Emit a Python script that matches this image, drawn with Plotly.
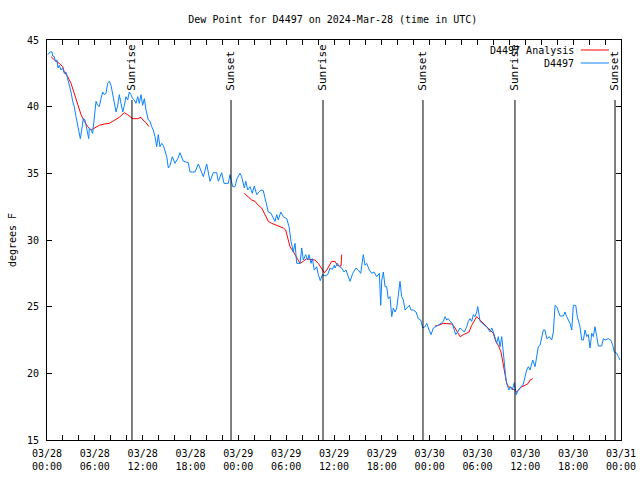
import pandas as pd
import plotly.graph_objects as go

# ---- data (hours since 2024-03-28 00:00 UTC, degrees F) ----
obs_hours = [0.09, 0.38, 0.63, 0.72, 0.92, 1.04, 1.25, 1.38, 1.54, 1.76, 1.97, 2.17, 2.38, 2.60, 2.80,
             3.01, 3.22, 3.42, 3.64, 3.85, 4.05, 4.18, 4.35, 4.55, 4.77, 4.89, 5.11, 5.23, 5.31, 5.52,
             5.73, 5.93, 6.15, 6.36, 6.56, 6.77, 6.99, 7.19, 7.40, 7.61, 7.82, 8.03, 8.24, 8.44, 8.66,
             8.87, 9.07, 9.28, 9.50, 9.70, 9.91, 10.12, 10.32, 10.54, 10.75, 10.95, 11.16, 11.38, 11.58,
             11.79, 12.00, 12.21, 12.42, 12.71, 12.92, 13.13, 13.33, 13.55, 13.76, 13.96, 14.17, 14.39,
             14.59, 15.02, 15.22, 15.43, 15.72, 16.06, 16.40, 16.68, 17.10, 17.72, 17.94, 18.57, 18.98,
             19.61, 20.03, 20.45, 20.86, 21.29, 21.49, 21.91, 22.20, 22.74, 22.96, 23.29, 23.58, 23.83,
             24.21, 24.42, 24.75, 24.93, 25.18, 25.47, 25.75, 26.00, 26.31, 26.59, 26.84, 27.13, 27.43,
             27.76, 28.10, 28.39, 28.60, 28.81, 29.01, 29.32, 29.64, 30.07, 30.36, 30.61, 30.90, 31.11,
             31.32, 31.74, 31.95, 32.15, 32.45, 32.70, 32.87, 33.12, 33.28, 33.53, 33.83, 34.03, 34.28,
             34.53, 34.87, 35.21, 35.50, 35.79, 36.04, 36.13, 36.42, 36.67, 36.97, 37.26, 37.51, 37.80,
             38.01, 38.35, 38.76, 39.05, 39.35, 39.68, 39.89, 40.10, 40.43, 40.73, 41.02, 41.36, 41.69,
             41.86, 41.99, 42.19, 42.40, 42.61, 42.81, 43.03, 43.24, 43.44, 43.65, 43.87, 44.07, 44.28,
             44.49, 44.70, 44.91, 45.20, 45.45, 45.66, 45.95, 46.29, 46.58, 46.88, 47.13, 47.42, 47.63,
             47.83, 48.04, 48.17, 48.46, 48.76, 49.09, 49.43, 49.71, 49.93, 50.14, 50.34, 50.55, 50.84,
             51.09, 51.27, 51.52, 51.81, 52.10, 52.35, 52.65, 52.85, 53.06, 53.27, 53.48, 53.69, 53.90,
             54.03, 54.19, 54.32, 54.61, 54.95, 55.28, 55.57, 55.79, 55.99, 56.20, 56.41, 56.61, 56.83,
             57.04, 57.24, 57.45, 57.58, 57.79, 57.95, 58.12, 58.37, 58.62, 58.87, 59.12, 59.33, 59.46,
             59.75, 60.17, 60.38, 60.59, 60.93, 61.22, 61.43, 61.63, 61.84, 62.26, 62.47, 62.69, 63.01,
             63.31, 63.51, 63.73, 63.94, 64.14, 64.35, 64.77, 64.98, 65.19, 65.61, 65.82, 66.02, 66.32,
             66.52, 66.86, 67.07, 67.28, 67.49, 67.70, 67.90, 68.12, 68.33, 68.53, 68.74, 68.96, 69.16,
             69.58, 69.79, 70.00, 70.41, 70.71, 70.96, 71.16, 71.47, 71.67, 71.88]
obs_values = [43.9, 44.1, 44.1, 43.8, 43.75, 43.4, 43.5, 42.9, 43.1, 42.75, 42.9, 42.5, 42.6, 42.1, 41.75,
              41.1, 40.4, 40.0, 39.25, 38.5, 37.75, 37.6, 38.25, 39.1, 39.0, 38.6, 37.75, 37.6, 38.4, 38.25,
              38.0, 39.25, 40.4, 40.1, 40.0, 40.6, 41.1, 40.9, 41.0, 41.75, 41.9, 41.6, 40.9, 40.25, 39.6,
              40.1, 40.9, 40.25, 39.6, 40.1, 40.75, 40.5, 41.1, 40.9, 40.6, 40.5, 40.25, 40.75, 40.25,
              40.9, 40.1, 40.6, 39.75, 39.0, 38.9, 38.5, 38.25, 37.75, 37.0, 37.9, 37.0, 37.25,
              37.1, 36.25, 35.4, 35.6, 36.25, 35.75, 36.1, 36.55, 35.9, 35.8, 35.1, 35.1, 35.7,
              34.75, 35.7, 34.4, 35.05, 35.05, 34.4, 35.05, 34.25, 34.25, 34.9, 34.0, 34.0, 34.6,
              35.0, 34.75, 33.9, 34.4, 33.75, 34.0, 33.5, 34.05, 33.4, 33.6, 33.75, 33.7, 32.9,
              32.1, 32.0, 31.6, 31.4, 31.9, 31.5, 32.1, 31.75, 31.6, 31.0, 29.9, 29.1, 29.75,
              28.25, 28.25, 29.4, 28.5, 28.9, 28.5, 28.9, 28.25, 28.6, 27.75, 28.0, 27.4, 26.95,
              27.4, 27.3, 27.4, 27.9, 27.8, 28.1, 27.9, 28.25, 28.0, 27.9, 27.6, 27.75, 27.25,
              26.9, 27.5, 27.9, 27.75, 27.5, 28.9, 28.1, 28.25, 27.75, 27.5, 27.6, 27.25, 27.5,
              25.1, 27.0, 27.6, 26.5, 26.5, 25.6, 25.75, 24.25, 24.9, 24.6, 24.9, 26.0, 26.9,
              25.75, 25.5, 24.75, 24.9, 25.1, 24.75, 24.75, 24.6, 24.1, 24.0, 23.4, 23.5, 23.75,
              23.4, 23.1, 22.9, 23.4, 23.5, 23.6, 23.75, 23.9, 24.25, 24.0, 24.1, 23.9, 23.75,
              23.25, 22.9, 23.1, 23.4, 23.25, 23.1, 23.5, 23.9, 24.1, 23.9, 24.4, 24.25, 24.6,
              25.0, 24.4, 23.9, 23.75, 23.6, 23.4, 23.1, 23.4, 23.1, 22.6, 22.25, 22.75, 22.0,
              22.75, 21.4, 20.25, 19.5, 19.0, 18.75, 19.0, 18.75, 19.3, 18.4, 18.75, 18.9, 19.0,
              19.2, 20.25, 20.5, 20.25, 21.0, 20.5, 21.4, 22.0, 22.1, 23.25, 23.25, 22.6, 22.75,
              22.5, 23.1, 25.1, 25.0, 24.6, 24.3, 24.3, 24.6, 24.25, 23.75, 23.25, 25.1, 25.1,
              24.25, 23.5, 22.5, 22.5, 23.25, 22.75, 22.9, 21.9, 23.0, 22.75, 23.5, 22.75, 22.05,
              22.05, 22.6, 22.5, 22.6, 22.5, 22.1, 21.6, 21.5, 21.25, 21.0]

ana_hours = [0.50, 1.13, 1.54, 1.97, 2.17, 2.60, 3.01, 3.42, 3.85, 4.27, 4.68, 5.11, 5.52, 5.93, 6.56,
             7.19, 7.82, 8.24, 8.66, 9.07, 9.70, 10.12, 10.75, 11.38, 11.79, 12.04, 12.42, 12.80,
             18.0,
             24.75, 25.25, 25.68, 26.09, 26.51, 26.93, 27.35, 27.76, 28.19, 28.81, 29.23, 29.64, 29.94,
             30.19, 30.48, 30.77, 31.02, 31.32, 31.74, 32.15, 32.57, 32.99, 33.62, 34.03, 34.46, 34.78,
             35.09, 35.41, 35.71, 36.13, 36.42, 36.67, 36.88, 36.97,
             42.0,
             48.67, 49.09, 49.71, 50.34, 50.84, 51.18, 51.52, 51.81, 52.23, 52.65, 52.94, 53.27, 53.60,
             53.90, 54.32, 54.73, 55.16, 55.57, 55.99, 56.28, 56.61, 56.95, 57.24, 57.45, 57.66, 57.87,
             58.29, 58.62, 58.92, 59.21, 59.55, 59.96, 60.38, 60.59, 60.93]
ana_values = [43.75, 43.4, 43.25, 43.0, 42.6, 42.25, 41.75, 41.0, 40.1, 39.4, 38.9, 38.5, 38.25, 38.4, 38.6,
              38.7, 38.75, 38.9, 39.05, 39.2, 39.55, 39.4, 39.1, 39.1, 39.2, 39.0, 38.8, 38.5,
              None,
              33.5, 33.25, 33.0, 32.9, 32.6, 32.4, 31.9, 31.4, 31.25, 31.1, 31.05, 30.9, 30.75,
              30.1, 29.5, 29.25, 29.0, 28.6, 28.25, 28.4, 28.6, 28.55, 28.5, 28.25, 27.9, 27.55,
              27.75, 28.05, 28.4, 28.4, 28.1, 28.05, 28.05, 28.9,
              None,
              23.55, 23.6, 23.75, 23.75, 23.7, 23.4, 23.0, 22.75, 22.9, 23.05, 23.1, 23.6, 24.0,
              24.25, 24.0, 23.75, 23.5, 23.3, 23.0, 22.4, 22.1, 21.6, 20.75, 19.9, 19.25, 19.0,
              18.9, 18.75, 18.6, 18.8, 19.0, 19.1, 19.25, 19.5, 19.6]

sun_hours = [10.66, 23.08, 34.62, 47.16, 58.70, 71.25]
sun_labels = ["Sunrise", "Sunset", "Sunrise", "Sunset", "Sunrise", "Sunset"]

base = pd.Timestamp("2024-03-28 00:00")
def to_time(hours):
    return [base + pd.Timedelta(hours=h) for h in hours]

FONT = "DejaVu Sans Mono"
BLUE = "#0a82ff"
RED = "#ff0000"

fig = go.Figure()
fig.add_trace(go.Scatter(x=to_time(ana_hours), y=ana_values, mode="lines",
                         line=dict(color=RED, width=1), connectgaps=False,
                         name="D4497 Analysis", showlegend=False))
fig.add_trace(go.Scatter(x=to_time(obs_hours), y=obs_values, mode="lines",
                         line=dict(color=BLUE, width=1), name="D4497", showlegend=False))

# sunrise / sunset markers
for h, lab in zip(sun_hours, sun_labels):
    t = base + pd.Timedelta(hours=h)
    fig.add_shape(type="line", x0=t, x1=t, y0=15, y1=40.5, xref="x", yref="y",
                  line=dict(color="black", width=1))
    fig.add_annotation(x=t, y=41.05, xref="x", yref="y", text=lab, textangle=-90,
                       showarrow=False, xanchor="center", yanchor="bottom",
                       font=dict(family=FONT, size=11, color="black"))

# manual legend (top right, gnuplot style)
legend_items = [("D4497 Analysis", RED, 0.975), ("D4497", BLUE, 0.9425)]
for name, col, yp in legend_items:
    fig.add_annotation(x=0.921, y=yp, xref="paper", yref="paper", text=name, showarrow=False,
                       xanchor="right", yanchor="middle", font=dict(family=FONT, size=10, color="black"))
    fig.add_shape(type="line", x0=0.930, x1=0.979, y0=yp, y1=yp, xref="paper", yref="paper",
                  line=dict(color=col, width=1))

fig.update_layout(
    width=640, height=480,
    margin=dict(l=47, r=19, t=40, b=40),
    paper_bgcolor="white", plot_bgcolor="white",
    font=dict(family=FONT, size=10, color="black"),
    title=dict(text="Dew Point for D4497 on 2024-Mar-28 (time in UTC)", x=0.52, xanchor="center",
               y=1 - 19 / 480, yanchor="middle", yref="container",
               font=dict(family=FONT, size=10, color="black")),
    showlegend=False,
)
fig.update_xaxes(
    range=[base, base + pd.Timedelta(hours=72)],
    tickmode="linear", tick0=base, dtick=6 * 3600 * 1000,
    tickformat="%m/%d<br>%H:%M",
    ticks="inside", ticklen=5, tickcolor="black",
    minor=dict(dtick=2 * 3600 * 1000, tick0=base, ticks="inside", ticklen=5, tickcolor="black",
               showgrid=False),
    showline=True, linecolor="black", linewidth=1, mirror="ticks",
    showgrid=False, zeroline=False, automargin=False, ticklabelstandoff=4,
    tickfont=dict(family=FONT, size=10),
)
fig.update_yaxes(
    range=[15, 45], tickmode="linear", tick0=15, dtick=5,
    ticks="inside", ticklen=5, tickcolor="black",
    showline=True, linecolor="black", linewidth=1, mirror="ticks",
    showgrid=False, zeroline=False, automargin=False, ticklabelstandoff=5,
    title=dict(text="degrees F", standoff=8, font=dict(family=FONT, size=10)),
    tickfont=dict(family=FONT, size=10),
)

fig.write_html("out.html")
